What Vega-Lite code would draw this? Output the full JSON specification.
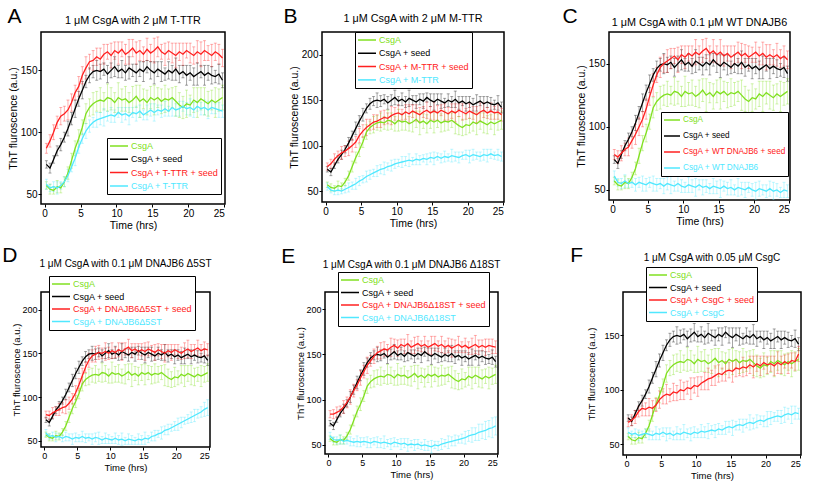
{
"$schema":"https://vega.github.io/schema/vega-lite/v6.json",
"background":"white",
"padding":{"left":2,"top":5,"right":0,"bottom":0},
"datasets":{"d":[
{"p":"*","s":"g","t":0.25,"y":57,"e":3},{"p":"*","s":"g","t":0.75,"y":54,"e":4},{"p":"*","s":"g","t":1.25,"y":53,"e":3},{"p":"*","s":"g","t":1.75,"y":56,"e":5},{"p":"*","s":"g","t":2.25,"y":55,"e":4},{"p":"*","s":"g","t":2.75,"y":60,"e":4},{"p":"*","s":"g","t":3.25,"y":67,"e":5},{"p":"*","s":"g","t":3.75,"y":77,"e":6},{"p":"*","s":"g","t":4.25,"y":87,"e":6},{"p":"*","s":"g","t":4.75,"y":95,"e":7},
{"p":"*","s":"g","t":5.25,"y":104,"e":6},{"p":"*","s":"g","t":5.75,"y":115,"e":8},{"p":"*","s":"g","t":6.25,"y":120,"e":7},{"p":"*","s":"g","t":6.75,"y":123,"e":9},{"p":"*","s":"g","t":7.25,"y":125,"e":8},{"p":"*","s":"g","t":7.75,"y":126,"e":10},{"p":"*","s":"g","t":8.25,"y":125,"e":7},{"p":"*","s":"g","t":8.75,"y":128,"e":11},{"p":"*","s":"g","t":9.25,"y":127,"e":9},{"p":"*","s":"g","t":9.75,"y":124,"e":8},
{"p":"*","s":"g","t":10.25,"y":128,"e":12},{"p":"*","s":"g","t":10.75,"y":126,"e":9},{"p":"*","s":"g","t":11.25,"y":127,"e":10},{"p":"*","s":"g","t":11.75,"y":124,"e":8},{"p":"*","s":"g","t":12.25,"y":126,"e":11},{"p":"*","s":"g","t":12.75,"y":129,"e":9},{"p":"*","s":"g","t":13.25,"y":125,"e":13},{"p":"*","s":"g","t":13.75,"y":127,"e":8},{"p":"*","s":"g","t":14.25,"y":124,"e":10},{"p":"*","s":"g","t":14.75,"y":128,"e":9},
{"p":"*","s":"g","t":15.25,"y":126,"e":12},{"p":"*","s":"g","t":15.75,"y":128,"e":8},{"p":"*","s":"g","t":16.25,"y":125,"e":10},{"p":"*","s":"g","t":16.75,"y":127,"e":11},{"p":"*","s":"g","t":17.25,"y":126,"e":9},{"p":"*","s":"g","t":17.75,"y":128,"e":8},{"p":"*","s":"g","t":18.25,"y":125,"e":12},{"p":"*","s":"g","t":18.75,"y":122,"e":10},{"p":"*","s":"g","t":19.25,"y":120,"e":9},{"p":"*","s":"g","t":19.75,"y":123,"e":11},
{"p":"*","s":"g","t":20.25,"y":122,"e":8},{"p":"*","s":"g","t":20.75,"y":126,"e":10},{"p":"*","s":"g","t":21.25,"y":124,"e":12},{"p":"*","s":"g","t":21.75,"y":127,"e":9},{"p":"*","s":"g","t":22.25,"y":125,"e":11},{"p":"*","s":"g","t":22.75,"y":123,"e":10},{"p":"*","s":"g","t":23.25,"y":126,"e":8},{"p":"*","s":"g","t":23.75,"y":124,"e":12},{"p":"*","s":"g","t":24.25,"y":126,"e":9},{"p":"*","s":"g","t":24.75,"y":128,"e":10},

{"p":"*","s":"k","t":0.25,"y":74,"e":3},{"p":"*","s":"k","t":0.75,"y":71,"e":4},{"p":"*","s":"k","t":1.25,"y":78,"e":3},{"p":"*","s":"k","t":1.75,"y":85,"e":4},{"p":"*","s":"k","t":2.25,"y":90,"e":5},{"p":"*","s":"k","t":2.75,"y":96,"e":4},{"p":"*","s":"k","t":3.25,"y":103,"e":6},{"p":"*","s":"k","t":3.75,"y":111,"e":5},{"p":"*","s":"k","t":4.25,"y":119,"e":7},{"p":"*","s":"k","t":4.75,"y":127,"e":6},
{"p":"*","s":"k","t":5.25,"y":134,"e":7},{"p":"*","s":"k","t":5.75,"y":141,"e":5},{"p":"*","s":"k","t":6.25,"y":146,"e":6},{"p":"*","s":"k","t":6.75,"y":149,"e":5},{"p":"*","s":"k","t":7.25,"y":150,"e":8},{"p":"*","s":"k","t":7.75,"y":149,"e":6},{"p":"*","s":"k","t":8.25,"y":151,"e":5},{"p":"*","s":"k","t":8.75,"y":147,"e":7},{"p":"*","s":"k","t":9.25,"y":150,"e":6},{"p":"*","s":"k","t":9.75,"y":153,"e":8},
{"p":"*","s":"k","t":10.25,"y":149,"e":5},{"p":"*","s":"k","t":10.75,"y":151,"e":7},{"p":"*","s":"k","t":11.25,"y":148,"e":6},{"p":"*","s":"k","t":11.75,"y":152,"e":9},{"p":"*","s":"k","t":12.25,"y":150,"e":5},{"p":"*","s":"k","t":12.75,"y":148,"e":7},{"p":"*","s":"k","t":13.25,"y":151,"e":6},{"p":"*","s":"k","t":13.75,"y":149,"e":8},{"p":"*","s":"k","t":14.25,"y":153,"e":5},{"p":"*","s":"k","t":14.75,"y":150,"e":7},
{"p":"*","s":"k","t":15.25,"y":148,"e":9},{"p":"*","s":"k","t":15.75,"y":151,"e":6},{"p":"*","s":"k","t":16.25,"y":149,"e":8},{"p":"*","s":"k","t":16.75,"y":147,"e":5},{"p":"*","s":"k","t":17.25,"y":150,"e":7},{"p":"*","s":"k","t":17.75,"y":148,"e":6},{"p":"*","s":"k","t":18.25,"y":151,"e":9},{"p":"*","s":"k","t":18.75,"y":147,"e":7},{"p":"*","s":"k","t":19.25,"y":149,"e":5},{"p":"*","s":"k","t":19.75,"y":146,"e":8},
{"p":"*","s":"k","t":20.25,"y":148,"e":6},{"p":"*","s":"k","t":20.75,"y":145,"e":7},{"p":"*","s":"k","t":21.25,"y":147,"e":9},{"p":"*","s":"k","t":21.75,"y":149,"e":5},{"p":"*","s":"k","t":22.25,"y":146,"e":8},{"p":"*","s":"k","t":22.75,"y":148,"e":6},{"p":"*","s":"k","t":23.25,"y":146,"e":7},{"p":"*","s":"k","t":23.75,"y":145,"e":5},{"p":"*","s":"k","t":24.25,"y":147,"e":8},{"p":"*","s":"k","t":24.75,"y":142,"e":6},

{"p":"A","s":"r","t":0.25,"y":87,"e":4},{"p":"A","s":"r","t":0.75,"y":93,"e":5},{"p":"A","s":"r","t":1.25,"y":100,"e":6},{"p":"A","s":"r","t":1.75,"y":108,"e":5},{"p":"A","s":"r","t":2.25,"y":113,"e":7},{"p":"A","s":"r","t":2.75,"y":115,"e":6},{"p":"A","s":"r","t":3.25,"y":118,"e":8},{"p":"A","s":"r","t":3.75,"y":124,"e":7},{"p":"A","s":"r","t":4.25,"y":132,"e":6},{"p":"A","s":"r","t":4.75,"y":137,"e":8},
{"p":"A","s":"r","t":5.25,"y":146,"e":7},{"p":"A","s":"r","t":5.75,"y":152,"e":9},{"p":"A","s":"r","t":6.25,"y":157,"e":6},{"p":"A","s":"r","t":6.75,"y":158,"e":8},{"p":"A","s":"r","t":7.25,"y":161,"e":7},{"p":"A","s":"r","t":7.75,"y":159,"e":9},{"p":"A","s":"r","t":8.25,"y":163,"e":8},{"p":"A","s":"r","t":8.75,"y":165,"e":6},{"p":"A","s":"r","t":9.25,"y":162,"e":10},{"p":"A","s":"r","t":9.75,"y":166,"e":7},
{"p":"A","s":"r","t":10.25,"y":164,"e":9},{"p":"A","s":"r","t":10.75,"y":167,"e":6},{"p":"A","s":"r","t":11.25,"y":163,"e":8},{"p":"A","s":"r","t":11.75,"y":165,"e":10},{"p":"A","s":"r","t":12.25,"y":168,"e":7},{"p":"A","s":"r","t":12.75,"y":164,"e":9},{"p":"A","s":"r","t":13.25,"y":166,"e":8},{"p":"A","s":"r","t":13.75,"y":163,"e":6},{"p":"A","s":"r","t":14.25,"y":167,"e":9},{"p":"A","s":"r","t":14.75,"y":164,"e":7},
{"p":"A","s":"r","t":15.25,"y":166,"e":10},{"p":"A","s":"r","t":15.75,"y":169,"e":8},{"p":"A","s":"r","t":16.25,"y":165,"e":6},{"p":"A","s":"r","t":16.75,"y":163,"e":9},{"p":"A","s":"r","t":17.25,"y":166,"e":7},{"p":"A","s":"r","t":17.75,"y":164,"e":8},{"p":"A","s":"r","t":18.25,"y":162,"e":10},{"p":"A","s":"r","t":18.75,"y":165,"e":7},{"p":"A","s":"r","t":19.25,"y":163,"e":9},{"p":"A","s":"r","t":19.75,"y":166,"e":6},
{"p":"A","s":"r","t":20.25,"y":164,"e":8},{"p":"A","s":"r","t":20.75,"y":162,"e":7},{"p":"A","s":"r","t":21.25,"y":165,"e":9},{"p":"A","s":"r","t":21.75,"y":163,"e":10},{"p":"A","s":"r","t":22.25,"y":166,"e":8},{"p":"A","s":"r","t":22.75,"y":164,"e":6},{"p":"A","s":"r","t":23.25,"y":162,"e":9},{"p":"A","s":"r","t":23.75,"y":165,"e":7},{"p":"A","s":"r","t":24.25,"y":163,"e":8},{"p":"A","s":"r","t":24.75,"y":160,"e":7},

{"p":"A","s":"c","t":0.25,"y":58,"e":4},{"p":"A","s":"c","t":0.75,"y":55,"e":3},{"p":"A","s":"c","t":1.25,"y":56,"e":4},{"p":"A","s":"c","t":1.75,"y":55,"e":5},{"p":"A","s":"c","t":2.25,"y":57,"e":3},{"p":"A","s":"c","t":2.75,"y":60,"e":4},{"p":"A","s":"c","t":3.25,"y":65,"e":5},{"p":"A","s":"c","t":3.75,"y":72,"e":4},{"p":"A","s":"c","t":4.25,"y":79,"e":6},{"p":"A","s":"c","t":4.75,"y":88,"e":5},
{"p":"A","s":"c","t":5.25,"y":95,"e":4},{"p":"A","s":"c","t":5.75,"y":101,"e":6},{"p":"A","s":"c","t":6.25,"y":105,"e":5},{"p":"A","s":"c","t":6.75,"y":108,"e":4},{"p":"A","s":"c","t":7.25,"y":110,"e":6},{"p":"A","s":"c","t":7.75,"y":111,"e":5},{"p":"A","s":"c","t":8.25,"y":112,"e":7},{"p":"A","s":"c","t":8.75,"y":113,"e":4},{"p":"A","s":"c","t":9.25,"y":114,"e":6},{"p":"A","s":"c","t":9.75,"y":113,"e":5},
{"p":"A","s":"c","t":10.25,"y":116,"e":4},{"p":"A","s":"c","t":10.75,"y":114,"e":6},{"p":"A","s":"c","t":11.25,"y":115,"e":5},{"p":"A","s":"c","t":11.75,"y":113,"e":7},{"p":"A","s":"c","t":12.25,"y":116,"e":4},{"p":"A","s":"c","t":12.75,"y":115,"e":6},{"p":"A","s":"c","t":13.25,"y":117,"e":5},{"p":"A","s":"c","t":13.75,"y":114,"e":4},{"p":"A","s":"c","t":14.25,"y":116,"e":6},{"p":"A","s":"c","t":14.75,"y":118,"e":5},
{"p":"A","s":"c","t":15.25,"y":116,"e":7},{"p":"A","s":"c","t":15.75,"y":118,"e":4},{"p":"A","s":"c","t":16.25,"y":117,"e":5},{"p":"A","s":"c","t":16.75,"y":119,"e":6},{"p":"A","s":"c","t":17.25,"y":117,"e":4},{"p":"A","s":"c","t":17.75,"y":120,"e":7},{"p":"A","s":"c","t":18.25,"y":118,"e":5},{"p":"A","s":"c","t":18.75,"y":119,"e":6},{"p":"A","s":"c","t":19.25,"y":121,"e":4},{"p":"A","s":"c","t":19.75,"y":119,"e":5},
{"p":"A","s":"c","t":20.25,"y":120,"e":7},{"p":"A","s":"c","t":20.75,"y":118,"e":6},{"p":"A","s":"c","t":21.25,"y":121,"e":4},{"p":"A","s":"c","t":21.75,"y":119,"e":5},{"p":"A","s":"c","t":22.25,"y":120,"e":6},{"p":"A","s":"c","t":22.75,"y":118,"e":7},{"p":"A","s":"c","t":23.25,"y":120,"e":5},{"p":"A","s":"c","t":23.75,"y":119,"e":4},{"p":"A","s":"c","t":24.25,"y":118,"e":6},{"p":"A","s":"c","t":24.75,"y":117,"e":5},

{"p":"B","s":"r","t":0.25,"y":77,"e":4},{"p":"B","s":"r","t":0.75,"y":80,"e":5},{"p":"B","s":"r","t":1.25,"y":85,"e":6},{"p":"B","s":"r","t":1.75,"y":89,"e":5},{"p":"B","s":"r","t":2.25,"y":92,"e":7},{"p":"B","s":"r","t":2.75,"y":94,"e":6},{"p":"B","s":"r","t":3.25,"y":97,"e":8},{"p":"B","s":"r","t":3.75,"y":100,"e":7},{"p":"B","s":"r","t":4.25,"y":104,"e":6},{"p":"B","s":"r","t":4.75,"y":111,"e":8},
{"p":"B","s":"r","t":5.25,"y":116,"e":7},{"p":"B","s":"r","t":5.75,"y":120,"e":9},{"p":"B","s":"r","t":6.25,"y":123,"e":6},{"p":"B","s":"r","t":6.75,"y":126,"e":8},{"p":"B","s":"r","t":7.25,"y":127,"e":7},{"p":"B","s":"r","t":7.75,"y":129,"e":9},{"p":"B","s":"r","t":8.25,"y":131,"e":8},{"p":"B","s":"r","t":8.75,"y":130,"e":6},{"p":"B","s":"r","t":9.25,"y":133,"e":10},{"p":"B","s":"r","t":9.75,"y":135,"e":7},
{"p":"B","s":"r","t":10.25,"y":136,"e":9},{"p":"B","s":"r","t":10.75,"y":134,"e":6},{"p":"B","s":"r","t":11.25,"y":137,"e":8},{"p":"B","s":"r","t":11.75,"y":135,"e":10},{"p":"B","s":"r","t":12.25,"y":138,"e":7},{"p":"B","s":"r","t":12.75,"y":136,"e":9},{"p":"B","s":"r","t":13.25,"y":134,"e":8},{"p":"B","s":"r","t":13.75,"y":137,"e":6},{"p":"B","s":"r","t":14.25,"y":139,"e":9},{"p":"B","s":"r","t":14.75,"y":136,"e":7},
{"p":"B","s":"r","t":15.25,"y":138,"e":10},{"p":"B","s":"r","t":15.75,"y":136,"e":8},{"p":"B","s":"r","t":16.25,"y":139,"e":6},{"p":"B","s":"r","t":16.75,"y":137,"e":9},{"p":"B","s":"r","t":17.25,"y":135,"e":7},{"p":"B","s":"r","t":17.75,"y":138,"e":8},{"p":"B","s":"r","t":18.25,"y":136,"e":10},{"p":"B","s":"r","t":18.75,"y":139,"e":7},{"p":"B","s":"r","t":19.25,"y":137,"e":9},{"p":"B","s":"r","t":19.75,"y":135,"e":6},
{"p":"B","s":"r","t":20.25,"y":138,"e":8},{"p":"B","s":"r","t":20.75,"y":136,"e":7},{"p":"B","s":"r","t":21.25,"y":134,"e":9},{"p":"B","s":"r","t":21.75,"y":137,"e":10},{"p":"B","s":"r","t":22.25,"y":139,"e":8},{"p":"B","s":"r","t":22.75,"y":136,"e":6},{"p":"B","s":"r","t":23.25,"y":138,"e":9},{"p":"B","s":"r","t":23.75,"y":136,"e":7},{"p":"B","s":"r","t":24.25,"y":137,"e":8},{"p":"B","s":"r","t":24.75,"y":134,"e":7},

{"p":"B","s":"c","t":0.25,"y":55,"e":4},{"p":"B","s":"c","t":0.75,"y":51,"e":3},{"p":"B","s":"c","t":1.25,"y":50,"e":4},{"p":"B","s":"c","t":1.75,"y":51,"e":5},{"p":"B","s":"c","t":2.25,"y":50,"e":3},{"p":"B","s":"c","t":2.75,"y":52,"e":4},{"p":"B","s":"c","t":3.25,"y":54,"e":5},{"p":"B","s":"c","t":3.75,"y":56,"e":4},{"p":"B","s":"c","t":4.25,"y":58,"e":6},{"p":"B","s":"c","t":4.75,"y":61,"e":5},
{"p":"B","s":"c","t":5.25,"y":63,"e":4},{"p":"B","s":"c","t":5.75,"y":66,"e":6},{"p":"B","s":"c","t":6.25,"y":68,"e":5},{"p":"B","s":"c","t":6.75,"y":70,"e":4},{"p":"B","s":"c","t":7.25,"y":72,"e":6},{"p":"B","s":"c","t":7.75,"y":74,"e":5},{"p":"B","s":"c","t":8.25,"y":75,"e":7},{"p":"B","s":"c","t":8.75,"y":77,"e":4},{"p":"B","s":"c","t":9.25,"y":78,"e":6},{"p":"B","s":"c","t":9.75,"y":80,"e":5},
{"p":"B","s":"c","t":10.25,"y":81,"e":4},{"p":"B","s":"c","t":10.75,"y":82,"e":6},{"p":"B","s":"c","t":11.25,"y":83,"e":5},{"p":"B","s":"c","t":11.75,"y":84,"e":7},{"p":"B","s":"c","t":12.25,"y":83,"e":4},{"p":"B","s":"c","t":12.75,"y":85,"e":6},{"p":"B","s":"c","t":13.25,"y":84,"e":5},{"p":"B","s":"c","t":13.75,"y":86,"e":4},{"p":"B","s":"c","t":14.25,"y":85,"e":6},{"p":"B","s":"c","t":14.75,"y":87,"e":5},
{"p":"B","s":"c","t":15.25,"y":86,"e":7},{"p":"B","s":"c","t":15.75,"y":88,"e":4},{"p":"B","s":"c","t":16.25,"y":86,"e":5},{"p":"B","s":"c","t":16.75,"y":88,"e":6},{"p":"B","s":"c","t":17.25,"y":87,"e":4},{"p":"B","s":"c","t":17.75,"y":89,"e":7},{"p":"B","s":"c","t":18.25,"y":88,"e":5},{"p":"B","s":"c","t":18.75,"y":87,"e":6},{"p":"B","s":"c","t":19.25,"y":89,"e":4},{"p":"B","s":"c","t":19.75,"y":90,"e":5},
{"p":"B","s":"c","t":20.25,"y":88,"e":7},{"p":"B","s":"c","t":20.75,"y":90,"e":6},{"p":"B","s":"c","t":21.25,"y":89,"e":4},{"p":"B","s":"c","t":21.75,"y":88,"e":5},{"p":"B","s":"c","t":22.25,"y":90,"e":6},{"p":"B","s":"c","t":22.75,"y":89,"e":7},{"p":"B","s":"c","t":23.25,"y":91,"e":5},{"p":"B","s":"c","t":23.75,"y":89,"e":4},{"p":"B","s":"c","t":24.25,"y":90,"e":6},{"p":"B","s":"c","t":24.75,"y":88,"e":5},

{"p":"C","s":"r","t":0.25,"y":78,"e":4},{"p":"C","s":"r","t":0.75,"y":76,"e":5},{"p":"C","s":"r","t":1.25,"y":79,"e":6},{"p":"C","s":"r","t":1.75,"y":82,"e":5},{"p":"C","s":"r","t":2.25,"y":84,"e":7},{"p":"C","s":"r","t":2.75,"y":89,"e":6},{"p":"C","s":"r","t":3.25,"y":94,"e":8},{"p":"C","s":"r","t":3.75,"y":100,"e":7},{"p":"C","s":"r","t":4.25,"y":106,"e":6},{"p":"C","s":"r","t":4.75,"y":114,"e":8},
{"p":"C","s":"r","t":5.25,"y":124,"e":7},{"p":"C","s":"r","t":5.75,"y":133,"e":9},{"p":"C","s":"r","t":6.25,"y":141,"e":6},{"p":"C","s":"r","t":6.75,"y":147,"e":8},{"p":"C","s":"r","t":7.25,"y":150,"e":7},{"p":"C","s":"r","t":7.75,"y":152,"e":9},{"p":"C","s":"r","t":8.25,"y":154,"e":8},{"p":"C","s":"r","t":8.75,"y":156,"e":6},{"p":"C","s":"r","t":9.25,"y":153,"e":10},{"p":"C","s":"r","t":9.75,"y":157,"e":7},
{"p":"C","s":"r","t":10.25,"y":155,"e":9},{"p":"C","s":"r","t":10.75,"y":158,"e":6},{"p":"C","s":"r","t":11.25,"y":156,"e":8},{"p":"C","s":"r","t":11.75,"y":159,"e":10},{"p":"C","s":"r","t":12.25,"y":157,"e":7},{"p":"C","s":"r","t":12.75,"y":160,"e":9},{"p":"C","s":"r","t":13.25,"y":162,"e":8},{"p":"C","s":"r","t":13.75,"y":158,"e":6},{"p":"C","s":"r","t":14.25,"y":160,"e":9},{"p":"C","s":"r","t":14.75,"y":157,"e":7},
{"p":"C","s":"r","t":15.25,"y":159,"e":10},{"p":"C","s":"r","t":15.75,"y":156,"e":8},{"p":"C","s":"r","t":16.25,"y":158,"e":6},{"p":"C","s":"r","t":16.75,"y":155,"e":9},{"p":"C","s":"r","t":17.25,"y":157,"e":7},{"p":"C","s":"r","t":17.75,"y":159,"e":8},{"p":"C","s":"r","t":18.25,"y":156,"e":10},{"p":"C","s":"r","t":18.75,"y":158,"e":7},{"p":"C","s":"r","t":19.25,"y":155,"e":9},{"p":"C","s":"r","t":19.75,"y":157,"e":6},
{"p":"C","s":"r","t":20.25,"y":159,"e":8},{"p":"C","s":"r","t":20.75,"y":156,"e":7},{"p":"C","s":"r","t":21.25,"y":158,"e":9},{"p":"C","s":"r","t":21.75,"y":155,"e":10},{"p":"C","s":"r","t":22.25,"y":157,"e":8},{"p":"C","s":"r","t":22.75,"y":155,"e":6},{"p":"C","s":"r","t":23.25,"y":157,"e":9},{"p":"C","s":"r","t":23.75,"y":154,"e":7},{"p":"C","s":"r","t":24.25,"y":156,"e":8},{"p":"C","s":"r","t":24.75,"y":153,"e":7},

{"p":"C","s":"c","t":0.25,"y":61,"e":4},{"p":"C","s":"c","t":0.75,"y":56,"e":3},{"p":"C","s":"c","t":1.25,"y":55,"e":4},{"p":"C","s":"c","t":1.75,"y":57,"e":5},{"p":"C","s":"c","t":2.25,"y":55,"e":3},{"p":"C","s":"c","t":2.75,"y":56,"e":4},{"p":"C","s":"c","t":3.25,"y":54,"e":5},{"p":"C","s":"c","t":3.75,"y":56,"e":4},{"p":"C","s":"c","t":4.25,"y":55,"e":6},{"p":"C","s":"c","t":4.75,"y":54,"e":5},
{"p":"C","s":"c","t":5.25,"y":56,"e":4},{"p":"C","s":"c","t":5.75,"y":55,"e":6},{"p":"C","s":"c","t":6.25,"y":54,"e":5},{"p":"C","s":"c","t":6.75,"y":55,"e":4},{"p":"C","s":"c","t":7.25,"y":53,"e":6},{"p":"C","s":"c","t":7.75,"y":55,"e":5},{"p":"C","s":"c","t":8.25,"y":54,"e":7},{"p":"C","s":"c","t":8.75,"y":53,"e":4},{"p":"C","s":"c","t":9.25,"y":55,"e":6},{"p":"C","s":"c","t":9.75,"y":53,"e":5},
{"p":"C","s":"c","t":10.25,"y":52,"e":4},{"p":"C","s":"c","t":10.75,"y":54,"e":6},{"p":"C","s":"c","t":11.25,"y":53,"e":5},{"p":"C","s":"c","t":11.75,"y":52,"e":7},{"p":"C","s":"c","t":12.25,"y":54,"e":4},{"p":"C","s":"c","t":12.75,"y":52,"e":6},{"p":"C","s":"c","t":13.25,"y":53,"e":5},{"p":"C","s":"c","t":13.75,"y":51,"e":4},{"p":"C","s":"c","t":14.25,"y":53,"e":6},{"p":"C","s":"c","t":14.75,"y":52,"e":5},
{"p":"C","s":"c","t":15.25,"y":51,"e":7},{"p":"C","s":"c","t":15.75,"y":53,"e":4},{"p":"C","s":"c","t":16.25,"y":51,"e":5},{"p":"C","s":"c","t":16.75,"y":52,"e":6},{"p":"C","s":"c","t":17.25,"y":50,"e":4},{"p":"C","s":"c","t":17.75,"y":52,"e":7},{"p":"C","s":"c","t":18.25,"y":51,"e":5},{"p":"C","s":"c","t":18.75,"y":50,"e":6},{"p":"C","s":"c","t":19.25,"y":52,"e":4},{"p":"C","s":"c","t":19.75,"y":50,"e":5},
{"p":"C","s":"c","t":20.25,"y":49,"e":7},{"p":"C","s":"c","t":20.75,"y":51,"e":6},{"p":"C","s":"c","t":21.25,"y":50,"e":4},{"p":"C","s":"c","t":21.75,"y":49,"e":5},{"p":"C","s":"c","t":22.25,"y":51,"e":6},{"p":"C","s":"c","t":22.75,"y":49,"e":7},{"p":"C","s":"c","t":23.25,"y":50,"e":5},{"p":"C","s":"c","t":23.75,"y":48,"e":4},{"p":"C","s":"c","t":24.25,"y":50,"e":6},{"p":"C","s":"c","t":24.75,"y":49,"e":5},

{"p":"D","s":"r","t":0.25,"y":80,"e":4},{"p":"D","s":"r","t":0.75,"y":79,"e":5},{"p":"D","s":"r","t":1.25,"y":82,"e":6},{"p":"D","s":"r","t":1.75,"y":84,"e":5},{"p":"D","s":"r","t":2.25,"y":86,"e":7},{"p":"D","s":"r","t":2.75,"y":88,"e":6},{"p":"D","s":"r","t":3.25,"y":89,"e":8},{"p":"D","s":"r","t":3.75,"y":93,"e":7},{"p":"D","s":"r","t":4.25,"y":98,"e":6},{"p":"D","s":"r","t":4.75,"y":105,"e":8},
{"p":"D","s":"r","t":5.25,"y":114,"e":7},{"p":"D","s":"r","t":5.75,"y":124,"e":9},{"p":"D","s":"r","t":6.25,"y":134,"e":6},{"p":"D","s":"r","t":6.75,"y":142,"e":8},{"p":"D","s":"r","t":7.25,"y":147,"e":7},{"p":"D","s":"r","t":7.75,"y":149,"e":9},{"p":"D","s":"r","t":8.25,"y":151,"e":8},{"p":"D","s":"r","t":8.75,"y":150,"e":6},{"p":"D","s":"r","t":9.25,"y":152,"e":10},{"p":"D","s":"r","t":9.75,"y":150,"e":7},
{"p":"D","s":"r","t":10.25,"y":153,"e":9},{"p":"D","s":"r","t":10.75,"y":151,"e":6},{"p":"D","s":"r","t":11.25,"y":154,"e":8},{"p":"D","s":"r","t":11.75,"y":152,"e":10},{"p":"D","s":"r","t":12.25,"y":155,"e":7},{"p":"D","s":"r","t":12.75,"y":157,"e":9},{"p":"D","s":"r","t":13.25,"y":153,"e":8},{"p":"D","s":"r","t":13.75,"y":155,"e":6},{"p":"D","s":"r","t":14.25,"y":152,"e":9},{"p":"D","s":"r","t":14.75,"y":154,"e":7},
{"p":"D","s":"r","t":15.25,"y":152,"e":10},{"p":"D","s":"r","t":15.75,"y":155,"e":8},{"p":"D","s":"r","t":16.25,"y":153,"e":6},{"p":"D","s":"r","t":16.75,"y":151,"e":9},{"p":"D","s":"r","t":17.25,"y":154,"e":7},{"p":"D","s":"r","t":17.75,"y":152,"e":8},{"p":"D","s":"r","t":18.25,"y":150,"e":10},{"p":"D","s":"r","t":18.75,"y":153,"e":7},{"p":"D","s":"r","t":19.25,"y":151,"e":9},{"p":"D","s":"r","t":19.75,"y":154,"e":6},
{"p":"D","s":"r","t":20.25,"y":152,"e":8},{"p":"D","s":"r","t":20.75,"y":150,"e":7},{"p":"D","s":"r","t":21.25,"y":153,"e":9},{"p":"D","s":"r","t":21.75,"y":155,"e":10},{"p":"D","s":"r","t":22.25,"y":152,"e":8},{"p":"D","s":"r","t":22.75,"y":154,"e":6},{"p":"D","s":"r","t":23.25,"y":156,"e":9},{"p":"D","s":"r","t":23.75,"y":153,"e":7},{"p":"D","s":"r","t":24.25,"y":155,"e":8},{"p":"D","s":"r","t":24.75,"y":154,"e":7},

{"p":"D","s":"c","t":0.25,"y":59,"e":4},{"p":"D","s":"c","t":0.75,"y":55,"e":3},{"p":"D","s":"c","t":1.25,"y":56,"e":4},{"p":"D","s":"c","t":1.75,"y":54,"e":5},{"p":"D","s":"c","t":2.25,"y":55,"e":3},{"p":"D","s":"c","t":2.75,"y":53,"e":4},{"p":"D","s":"c","t":3.25,"y":55,"e":5},{"p":"D","s":"c","t":3.75,"y":54,"e":4},{"p":"D","s":"c","t":4.25,"y":52,"e":6},{"p":"D","s":"c","t":4.75,"y":54,"e":5},
{"p":"D","s":"c","t":5.25,"y":53,"e":4},{"p":"D","s":"c","t":5.75,"y":55,"e":6},{"p":"D","s":"c","t":6.25,"y":53,"e":5},{"p":"D","s":"c","t":6.75,"y":54,"e":4},{"p":"D","s":"c","t":7.25,"y":52,"e":6},{"p":"D","s":"c","t":7.75,"y":54,"e":5},{"p":"D","s":"c","t":8.25,"y":53,"e":7},{"p":"D","s":"c","t":8.75,"y":51,"e":4},{"p":"D","s":"c","t":9.25,"y":53,"e":6},{"p":"D","s":"c","t":9.75,"y":52,"e":5},
{"p":"D","s":"c","t":10.25,"y":51,"e":4},{"p":"D","s":"c","t":10.75,"y":53,"e":6},{"p":"D","s":"c","t":11.25,"y":51,"e":5},{"p":"D","s":"c","t":11.75,"y":52,"e":7},{"p":"D","s":"c","t":12.25,"y":50,"e":4},{"p":"D","s":"c","t":12.75,"y":52,"e":6},{"p":"D","s":"c","t":13.25,"y":51,"e":5},{"p":"D","s":"c","t":13.75,"y":50,"e":4},{"p":"D","s":"c","t":14.25,"y":52,"e":6},{"p":"D","s":"c","t":14.75,"y":51,"e":5},
{"p":"D","s":"c","t":15.25,"y":53,"e":7},{"p":"D","s":"c","t":15.75,"y":52,"e":4},{"p":"D","s":"c","t":16.25,"y":55,"e":5},{"p":"D","s":"c","t":16.75,"y":56,"e":6},{"p":"D","s":"c","t":17.25,"y":58,"e":4},{"p":"D","s":"c","t":17.75,"y":59,"e":7},{"p":"D","s":"c","t":18.25,"y":62,"e":5},{"p":"D","s":"c","t":18.75,"y":63,"e":6},{"p":"D","s":"c","t":19.25,"y":65,"e":4},{"p":"D","s":"c","t":19.75,"y":67,"e":5},
{"p":"D","s":"c","t":20.25,"y":69,"e":7},{"p":"D","s":"c","t":20.75,"y":71,"e":6},{"p":"D","s":"c","t":21.25,"y":73,"e":4},{"p":"D","s":"c","t":21.75,"y":75,"e":5},{"p":"D","s":"c","t":22.25,"y":77,"e":6},{"p":"D","s":"c","t":22.75,"y":79,"e":7},{"p":"D","s":"c","t":23.25,"y":81,"e":5},{"p":"D","s":"c","t":23.75,"y":83,"e":6},{"p":"D","s":"c","t":24.25,"y":86,"e":8},{"p":"D","s":"c","t":24.75,"y":88,"e":9},

{"p":"E","s":"r","t":0.25,"y":84,"e":4},{"p":"E","s":"r","t":0.75,"y":84,"e":5},{"p":"E","s":"r","t":1.25,"y":86,"e":6},{"p":"E","s":"r","t":1.75,"y":88,"e":5},{"p":"E","s":"r","t":2.25,"y":92,"e":7},{"p":"E","s":"r","t":2.75,"y":97,"e":6},{"p":"E","s":"r","t":3.25,"y":103,"e":8},{"p":"E","s":"r","t":3.75,"y":110,"e":7},{"p":"E","s":"r","t":4.25,"y":116,"e":6},{"p":"E","s":"r","t":4.75,"y":124,"e":8},
{"p":"E","s":"r","t":5.25,"y":131,"e":7},{"p":"E","s":"r","t":5.75,"y":138,"e":9},{"p":"E","s":"r","t":6.25,"y":143,"e":6},{"p":"E","s":"r","t":6.75,"y":148,"e":8},{"p":"E","s":"r","t":7.25,"y":152,"e":7},{"p":"E","s":"r","t":7.75,"y":154,"e":9},{"p":"E","s":"r","t":8.25,"y":156,"e":8},{"p":"E","s":"r","t":8.75,"y":155,"e":6},{"p":"E","s":"r","t":9.25,"y":158,"e":10},{"p":"E","s":"r","t":9.75,"y":160,"e":7},
{"p":"E","s":"r","t":10.25,"y":157,"e":9},{"p":"E","s":"r","t":10.75,"y":161,"e":6},{"p":"E","s":"r","t":11.25,"y":159,"e":8},{"p":"E","s":"r","t":11.75,"y":162,"e":10},{"p":"E","s":"r","t":12.25,"y":158,"e":7},{"p":"E","s":"r","t":12.75,"y":160,"e":9},{"p":"E","s":"r","t":13.25,"y":162,"e":8},{"p":"E","s":"r","t":13.75,"y":159,"e":6},{"p":"E","s":"r","t":14.25,"y":161,"e":9},{"p":"E","s":"r","t":14.75,"y":158,"e":7},
{"p":"E","s":"r","t":15.25,"y":160,"e":10},{"p":"E","s":"r","t":15.75,"y":162,"e":8},{"p":"E","s":"r","t":16.25,"y":159,"e":6},{"p":"E","s":"r","t":16.75,"y":161,"e":9},{"p":"E","s":"r","t":17.25,"y":158,"e":7},{"p":"E","s":"r","t":17.75,"y":160,"e":8},{"p":"E","s":"r","t":18.25,"y":157,"e":10},{"p":"E","s":"r","t":18.75,"y":159,"e":7},{"p":"E","s":"r","t":19.25,"y":161,"e":9},{"p":"E","s":"r","t":19.75,"y":158,"e":6},
{"p":"E","s":"r","t":20.25,"y":160,"e":8},{"p":"E","s":"r","t":20.75,"y":157,"e":7},{"p":"E","s":"r","t":21.25,"y":159,"e":9},{"p":"E","s":"r","t":21.75,"y":161,"e":10},{"p":"E","s":"r","t":22.25,"y":158,"e":8},{"p":"E","s":"r","t":22.75,"y":160,"e":6},{"p":"E","s":"r","t":23.25,"y":158,"e":9},{"p":"E","s":"r","t":23.75,"y":160,"e":7},{"p":"E","s":"r","t":24.25,"y":159,"e":8},{"p":"E","s":"r","t":24.75,"y":158,"e":7},

{"p":"E","s":"c","t":0.25,"y":60,"e":4},{"p":"E","s":"c","t":0.75,"y":56,"e":3},{"p":"E","s":"c","t":1.25,"y":55,"e":4},{"p":"E","s":"c","t":1.75,"y":56,"e":5},{"p":"E","s":"c","t":2.25,"y":54,"e":3},{"p":"E","s":"c","t":2.75,"y":55,"e":4},{"p":"E","s":"c","t":3.25,"y":54,"e":5},{"p":"E","s":"c","t":3.75,"y":53,"e":4},{"p":"E","s":"c","t":4.25,"y":54,"e":6},{"p":"E","s":"c","t":4.75,"y":53,"e":5},
{"p":"E","s":"c","t":5.25,"y":54,"e":4},{"p":"E","s":"c","t":5.75,"y":53,"e":6},{"p":"E","s":"c","t":6.25,"y":52,"e":5},{"p":"E","s":"c","t":6.75,"y":54,"e":4},{"p":"E","s":"c","t":7.25,"y":53,"e":6},{"p":"E","s":"c","t":7.75,"y":52,"e":5},{"p":"E","s":"c","t":8.25,"y":53,"e":7},{"p":"E","s":"c","t":8.75,"y":52,"e":4},{"p":"E","s":"c","t":9.25,"y":51,"e":6},{"p":"E","s":"c","t":9.75,"y":53,"e":5},
{"p":"E","s":"c","t":10.25,"y":52,"e":4},{"p":"E","s":"c","t":10.75,"y":51,"e":6},{"p":"E","s":"c","t":11.25,"y":52,"e":5},{"p":"E","s":"c","t":11.75,"y":50,"e":7},{"p":"E","s":"c","t":12.25,"y":51,"e":4},{"p":"E","s":"c","t":12.75,"y":50,"e":6},{"p":"E","s":"c","t":13.25,"y":51,"e":5},{"p":"E","s":"c","t":13.75,"y":49,"e":4},{"p":"E","s":"c","t":14.25,"y":50,"e":6},{"p":"E","s":"c","t":14.75,"y":49,"e":5},
{"p":"E","s":"c","t":15.25,"y":48,"e":7},{"p":"E","s":"c","t":15.75,"y":50,"e":4},{"p":"E","s":"c","t":16.25,"y":49,"e":5},{"p":"E","s":"c","t":16.75,"y":51,"e":6},{"p":"E","s":"c","t":17.25,"y":52,"e":4},{"p":"E","s":"c","t":17.75,"y":53,"e":7},{"p":"E","s":"c","t":18.25,"y":54,"e":5},{"p":"E","s":"c","t":18.75,"y":55,"e":6},{"p":"E","s":"c","t":19.25,"y":56,"e":4},{"p":"E","s":"c","t":19.75,"y":57,"e":5},
{"p":"E","s":"c","t":20.25,"y":58,"e":7},{"p":"E","s":"c","t":20.75,"y":60,"e":6},{"p":"E","s":"c","t":21.25,"y":61,"e":8},{"p":"E","s":"c","t":21.75,"y":62,"e":7},{"p":"E","s":"c","t":22.25,"y":64,"e":9},{"p":"E","s":"c","t":22.75,"y":65,"e":8},{"p":"E","s":"c","t":23.25,"y":66,"e":10},{"p":"E","s":"c","t":23.75,"y":68,"e":9},{"p":"E","s":"c","t":24.25,"y":69,"e":11},{"p":"E","s":"c","t":24.75,"y":71,"e":10},

{"p":"F","s":"r","t":0.25,"y":70,"e":4},{"p":"F","s":"r","t":0.75,"y":72,"e":5},{"p":"F","s":"r","t":1.25,"y":75,"e":6},{"p":"F","s":"r","t":1.75,"y":80,"e":5},{"p":"F","s":"r","t":2.25,"y":83,"e":7},{"p":"F","s":"r","t":2.75,"y":82,"e":6},{"p":"F","s":"r","t":3.25,"y":84,"e":8},{"p":"F","s":"r","t":3.75,"y":83,"e":7},{"p":"F","s":"r","t":4.25,"y":86,"e":6},{"p":"F","s":"r","t":4.75,"y":91,"e":8},
{"p":"F","s":"r","t":5.25,"y":94,"e":7},{"p":"F","s":"r","t":5.75,"y":96,"e":9},{"p":"F","s":"r","t":6.25,"y":95,"e":6},{"p":"F","s":"r","t":6.75,"y":98,"e":8},{"p":"F","s":"r","t":7.25,"y":97,"e":7},{"p":"F","s":"r","t":7.75,"y":100,"e":9},{"p":"F","s":"r","t":8.25,"y":99,"e":8},{"p":"F","s":"r","t":8.75,"y":102,"e":6},{"p":"F","s":"r","t":9.25,"y":101,"e":10},{"p":"F","s":"r","t":9.75,"y":104,"e":7},
{"p":"F","s":"r","t":10.25,"y":103,"e":9},{"p":"F","s":"r","t":10.75,"y":106,"e":6},{"p":"F","s":"r","t":11.25,"y":108,"e":8},{"p":"F","s":"r","t":11.75,"y":110,"e":10},{"p":"F","s":"r","t":12.25,"y":111,"e":7},{"p":"F","s":"r","t":12.75,"y":113,"e":9},{"p":"F","s":"r","t":13.25,"y":115,"e":8},{"p":"F","s":"r","t":13.75,"y":114,"e":6},{"p":"F","s":"r","t":14.25,"y":117,"e":9},{"p":"F","s":"r","t":14.75,"y":118,"e":7},
{"p":"F","s":"r","t":15.25,"y":117,"e":10},{"p":"F","s":"r","t":15.75,"y":120,"e":8},{"p":"F","s":"r","t":16.25,"y":119,"e":6},{"p":"F","s":"r","t":16.75,"y":121,"e":9},{"p":"F","s":"r","t":17.25,"y":120,"e":7},{"p":"F","s":"r","t":17.75,"y":123,"e":8},{"p":"F","s":"r","t":18.25,"y":121,"e":10},{"p":"F","s":"r","t":18.75,"y":124,"e":7},{"p":"F","s":"r","t":19.25,"y":122,"e":9},{"p":"F","s":"r","t":19.75,"y":125,"e":6},
{"p":"F","s":"r","t":20.25,"y":123,"e":8},{"p":"F","s":"r","t":20.75,"y":124,"e":7},{"p":"F","s":"r","t":21.25,"y":122,"e":9},{"p":"F","s":"r","t":21.75,"y":125,"e":10},{"p":"F","s":"r","t":22.25,"y":123,"e":8},{"p":"F","s":"r","t":22.75,"y":126,"e":6},{"p":"F","s":"r","t":23.25,"y":124,"e":9},{"p":"F","s":"r","t":23.75,"y":127,"e":7},{"p":"F","s":"r","t":24.25,"y":126,"e":8},{"p":"F","s":"r","t":24.75,"y":133,"e":7},

{"p":"F","s":"c","t":0.25,"y":61,"e":4},{"p":"F","s":"c","t":0.75,"y":59,"e":3},{"p":"F","s":"c","t":1.25,"y":60,"e":4},{"p":"F","s":"c","t":1.75,"y":58,"e":5},{"p":"F","s":"c","t":2.25,"y":59,"e":3},{"p":"F","s":"c","t":2.75,"y":60,"e":4},{"p":"F","s":"c","t":3.25,"y":59,"e":5},{"p":"F","s":"c","t":3.75,"y":58,"e":4},{"p":"F","s":"c","t":4.25,"y":60,"e":6},{"p":"F","s":"c","t":4.75,"y":59,"e":5},
{"p":"F","s":"c","t":5.25,"y":61,"e":4},{"p":"F","s":"c","t":5.75,"y":59,"e":6},{"p":"F","s":"c","t":6.25,"y":60,"e":5},{"p":"F","s":"c","t":6.75,"y":58,"e":4},{"p":"F","s":"c","t":7.25,"y":60,"e":6},{"p":"F","s":"c","t":7.75,"y":59,"e":5},{"p":"F","s":"c","t":8.25,"y":61,"e":7},{"p":"F","s":"c","t":8.75,"y":60,"e":4},{"p":"F","s":"c","t":9.25,"y":59,"e":6},{"p":"F","s":"c","t":9.75,"y":61,"e":5},
{"p":"F","s":"c","t":10.25,"y":60,"e":4},{"p":"F","s":"c","t":10.75,"y":62,"e":6},{"p":"F","s":"c","t":11.25,"y":61,"e":5},{"p":"F","s":"c","t":11.75,"y":62,"e":7},{"p":"F","s":"c","t":12.25,"y":63,"e":4},{"p":"F","s":"c","t":12.75,"y":62,"e":6},{"p":"F","s":"c","t":13.25,"y":64,"e":5},{"p":"F","s":"c","t":13.75,"y":63,"e":4},{"p":"F","s":"c","t":14.25,"y":65,"e":6},{"p":"F","s":"c","t":14.75,"y":66,"e":5},
{"p":"F","s":"c","t":15.25,"y":65,"e":7},{"p":"F","s":"c","t":15.75,"y":67,"e":4},{"p":"F","s":"c","t":16.25,"y":68,"e":5},{"p":"F","s":"c","t":16.75,"y":67,"e":6},{"p":"F","s":"c","t":17.25,"y":69,"e":4},{"p":"F","s":"c","t":17.75,"y":70,"e":7},{"p":"F","s":"c","t":18.25,"y":69,"e":5},{"p":"F","s":"c","t":18.75,"y":71,"e":6},{"p":"F","s":"c","t":19.25,"y":72,"e":4},{"p":"F","s":"c","t":19.75,"y":71,"e":5},
{"p":"F","s":"c","t":20.25,"y":73,"e":7},{"p":"F","s":"c","t":20.75,"y":74,"e":6},{"p":"F","s":"c","t":21.25,"y":75,"e":4},{"p":"F","s":"c","t":21.75,"y":76,"e":5},{"p":"F","s":"c","t":22.25,"y":75,"e":6},{"p":"F","s":"c","t":22.75,"y":77,"e":7},{"p":"F","s":"c","t":23.25,"y":78,"e":5},{"p":"F","s":"c","t":23.75,"y":77,"e":8},{"p":"F","s":"c","t":24.25,"y":79,"e":6},{"p":"F","s":"c","t":24.75,"y":78,"e":5}
]},
"resolve":{"scale":{"x":"independent","y":"independent","color":"independent"},"legend":{"color":"independent"}},
"spacing":12,
"vconcat":[
{"hconcat":[
{"title":{"text":"A","anchor":"start","fontSize":21,"offset":-13,"dx":0},"resolve":{"scale":{"x":"independent","y":"independent","color":"independent"},"legend":{"color":"independent"}},
"vconcat":[{"title":{"text":"1 μM CsgA with 2 μM T-TTR","offset":6},"width":184,"height":172,"data":{"name":"d"},"transform":[{"filter":"datum.p=='A'||datum.p=='*'"}],
"encoding":{"x":{"field":"t","type":"quantitative","scale":{"domain":[-0.5,25.1],"nice":false,"zero":false},"axis":{"values":[0,5,10,15,20,25],"title":"Time (hrs)"}},
"y":{"field":"y","type":"quantitative","scale":{"domain":[42,181],"nice":false,"zero":false},"axis":{"values":[50,100,150],"title":"ThT fluroscence (a.u.)"}},
"color":{"field":"s","type":"nominal","scale":{"domain":["g","k","r","c"],"range":["#80e020","#000000","#ff2020","#50e8ff"]},"legend":{"legendX":66,"legendY":106,"labelExpr":"datum.label=='g'?'CsgA':datum.label=='k'?'CsgA + seed':datum.label=='r'?'CsgA + T-TTR + seed':'CsgA + T-TTR'"}}},
"layer":[{"mark":{"type":"errorbar","opacity":0.35,"ticks":{"size":3},"clip":true},"encoding":{"yError":{"field":"e"}}},{"mark":{"type":"line","strokeWidth":1.3,"clip":true}}]}]},
{"title":{"text":"B","anchor":"start","fontSize":21,"offset":-15,"dx":-5},"resolve":{"scale":{"x":"independent","y":"independent","color":"independent"},"legend":{"color":"independent"}},
"vconcat":[{"title":{"text":"1 μM CsgA with 2 μM M-TTR","offset":8},"width":182,"height":170,"data":{"name":"d"},"transform":[{"filter":"datum.p=='B'||datum.p=='*'"}],
"encoding":{"x":{"field":"t","type":"quantitative","scale":{"domain":[-0.5,25.1],"nice":false,"zero":false},"axis":{"values":[0,5,10,15,20,25],"title":"Time (hrs)"}},
"y":{"field":"y","type":"quantitative","scale":{"domain":[38,225],"nice":false,"zero":false},"axis":{"values":[50,100,150,200],"title":"ThT fluroscence (a.u.)"}},
"color":{"field":"s","type":"nominal","scale":{"domain":["g","k","r","c"],"range":["#80e020","#000000","#ff2020","#50e8ff"]},"legend":{"legendX":33,"legendY":0,"labelExpr":"datum.label=='g'?'CsgA':datum.label=='k'?'CsgA + seed':datum.label=='r'?'CsgA + M-TTR + seed':'CsgA + M-TTR'"}}},
"layer":[{"mark":{"type":"errorbar","opacity":0.35,"ticks":{"size":3},"clip":true},"encoding":{"yError":{"field":"e"}}},{"mark":{"type":"line","strokeWidth":1.3,"clip":true}}]}]},
{"title":{"text":"C","anchor":"start","fontSize":21,"offset":-11,"dx":-13},"resolve":{"scale":{"x":"independent","y":"independent","color":"independent"},"legend":{"color":"independent"}},
"vconcat":[{"title":{"text":"1 μM CsgA with 0.1 μM WT DNAJB6","offset":4},"width":181,"height":168,"data":{"name":"d"},"transform":[{"filter":"datum.p=='C'||datum.p=='*'"}],
"encoding":{"x":{"field":"t","type":"quantitative","scale":{"domain":[-0.5,25.1],"nice":false,"zero":false},"axis":{"values":[0,5,10,15,20,25],"title":"Time (hrs)"}},
"y":{"field":"y","type":"quantitative","scale":{"domain":[42,175],"nice":false,"zero":false},"axis":{"values":[50,100,150],"title":"ThT fluroscence (a.u.)"}},
"color":{"field":"s","type":"nominal","scale":{"domain":["g","k","r","c"],"range":["#80e020","#000000","#ff2020","#50e8ff"]},"legend":{"legendX":52,"legendY":80,"rowPadding":4,"labelFontSize":8.2,"symbolSize":256,"labelExpr":"datum.label=='g'?'CsgA':datum.label=='k'?'CsgA + seed':datum.label=='r'?'CsgA + WT DNAJB6 + seed':'CsgA + WT DNAJB6'"}}},
"layer":[{"mark":{"type":"errorbar","opacity":0.35,"ticks":{"size":3},"clip":true},"encoding":{"yError":{"field":"e"}}},{"mark":{"type":"line","strokeWidth":1.3,"clip":true}}]}]}
],"spacing":57,"resolve":{"scale":{"x":"independent","y":"independent","color":"independent"},"legend":{"color":"independent"}}},
{"hconcat":[
{"title":{"text":"D","anchor":"start","fontSize":21,"offset":-8,"dx":-9},"resolve":{"scale":{"x":"independent","y":"independent","color":"independent"},"legend":{"color":"independent"}},
"vconcat":[{"title":{"text":"1 μM CsgA with 0.1 μM DNAJB6 Δ5ST","offset":7,"fontSize":10},"width":169,"height":155,"data":{"name":"d"},"transform":[{"filter":"datum.p=='D'||datum.p=='*'"}],
"encoding":{"x":{"field":"t","type":"quantitative","scale":{"domain":[-0.5,25.1],"nice":false,"zero":false},"axis":{"values":[0,5,10,15,20,25],"title":"Time (hrs)","labelFontSize":9,"titleFontSize":9.5}},
"y":{"field":"y","type":"quantitative","scale":{"domain":[43,220],"nice":false,"zero":false},"axis":{"values":[50,100,150,200],"title":"ThT fluroscence (a.u.)","labelFontSize":9,"titleFontSize":9.5,"titlePadding":0}},
"color":{"field":"s","type":"nominal","scale":{"domain":["g","k","r","c"],"range":["#80e020","#000000","#ff2020","#50e8ff"]},"legend":{"legendX":8,"legendY":-16,"rowPadding":0.5,"labelExpr":"datum.label=='g'?'CsgA':datum.label=='k'?'CsgA + seed':datum.label=='r'?'CsgA + DNAJB6Δ5ST + seed':'CsgA + DNAJB6Δ5ST'"}}},
"layer":[{"mark":{"type":"errorbar","opacity":0.35,"ticks":{"size":3},"clip":true},"encoding":{"yError":{"field":"e"}}},{"mark":{"type":"line","strokeWidth":1.3,"clip":true}}]}]},
{"title":{"text":"E","anchor":"start","fontSize":21,"offset":-8,"dx":-14},"resolve":{"scale":{"x":"independent","y":"independent","color":"independent"},"legend":{"color":"independent"}},
"vconcat":[{"title":{"text":"1 μM CsgA with 0.1 μM DNAJB6 Δ18ST","offset":2,"fontSize":10},"width":173,"height":162,"data":{"name":"d"},"transform":[{"filter":"datum.p=='E'||datum.p=='*'"}],
"encoding":{"x":{"field":"t","type":"quantitative","scale":{"domain":[-0.5,25.1],"nice":false,"zero":false},"axis":{"values":[0,5,10,15,20,25],"title":"Time (hrs)","labelFontSize":9,"titleFontSize":9.5}},
"y":{"field":"y","type":"quantitative","scale":{"domain":[40,219],"nice":false,"zero":false},"axis":{"values":[50,100,150,200],"title":"ThT fluroscence (a.u.)","labelFontSize":9,"titleFontSize":9.5,"titlePadding":0}},
"color":{"field":"s","type":"nominal","scale":{"domain":["g","k","r","c"],"range":["#80e020","#000000","#ff2020","#50e8ff"]},"legend":{"legendX":13,"legendY":-20,"rowPadding":0.5,"labelExpr":"datum.label=='g'?'CsgA':datum.label=='k'?'CsgA + seed':datum.label=='r'?'CsgA + DNAJB6Δ18ST + seed':'CsgA + DNAJB6Δ18ST'"}}},
"layer":[{"mark":{"type":"errorbar","opacity":0.35,"ticks":{"size":3},"clip":true},"encoding":{"yError":{"field":"e"}}},{"mark":{"type":"line","strokeWidth":1.3,"clip":true}}]}]},
{"title":{"text":"F","anchor":"start","fontSize":21,"offset":-14,"dx":-16},"resolve":{"scale":{"x":"independent","y":"independent","color":"independent"},"legend":{"color":"independent"}},
"vconcat":[{"title":{"text":"1 μM CsgA with 0.05 μM CsgC","offset":4,"fontSize":10},"width":178,"height":163,"data":{"name":"d"},"transform":[{"filter":"datum.p=='F'||datum.p=='*'"}],
"encoding":{"x":{"field":"t","type":"quantitative","scale":{"domain":[-0.5,25.1],"nice":false,"zero":false},"axis":{"values":[0,5,10,15,20,25],"title":"Time (hrs)","labelFontSize":9,"titleFontSize":9.5}},
"y":{"field":"y","type":"quantitative","scale":{"domain":[40,190],"nice":false,"zero":false},"axis":{"values":[50,100,150],"title":"ThT fluroscence (a.u.)","labelFontSize":9,"titleFontSize":9.5,"titlePadding":7}},
"color":{"field":"s","type":"nominal","scale":{"domain":["g","k","r","c"],"range":["#80e020","#000000","#ff2020","#50e8ff"]},"legend":{"legendX":23,"legendY":-25,"rowPadding":0.5,"labelExpr":"datum.label=='g'?'CsgA':datum.label=='k'?'CsgA + seed':datum.label=='r'?'CsgA + CsgC + seed':'CsgA + CsgC'"}}},
"layer":[{"mark":{"type":"errorbar","opacity":0.35,"ticks":{"size":3},"clip":true},"encoding":{"yError":{"field":"e"}}},{"mark":{"type":"line","strokeWidth":1.3,"clip":true}}]}]}
],"spacing":68,"resolve":{"scale":{"x":"independent","y":"independent","color":"independent"},"legend":{"color":"independent"}}}
],
"config":{
"font":"Liberation Sans",
"view":{"stroke":"#000000","strokeWidth":1.5},
"axis":{"grid":false,"domain":false,"ticks":true,"tickColor":"#000000","tickSize":3,"labelFont":"Liberation Sans","labelFontSize":10,"labelColor":"#000000","titleFont":"Liberation Sans","titleFontSize":10.5,"titleFontWeight":"normal","titleColor":"#000000"},
"axisX":{"labelPadding":1,"titlePadding":2},
"axisY":{"labelPadding":1,"titlePadding":2},
"title":{"font":"Liberation Sans","fontSize":10.8,"fontWeight":"normal","color":"#000000"},
"legend":{"orient":"none","title":null,"strokeColor":"#000000","fillColor":"#ffffff","padding":2,"labelFont":"Liberation Sans","labelFontSize":9,"labelOffset":2,"labelLimit":250,"symbolType":"stroke","symbolSize":324,"symbolStrokeWidth":1.5,"symbolOpacity":1,"clipHeight":12,"rowPadding":1.3,
"labelColor":{"expr":"datum.value=='g'?'#80e020':datum.value=='k'?'#000000':datum.value=='r'?'#ff2020':'#50e8ff'"}}
}
}
